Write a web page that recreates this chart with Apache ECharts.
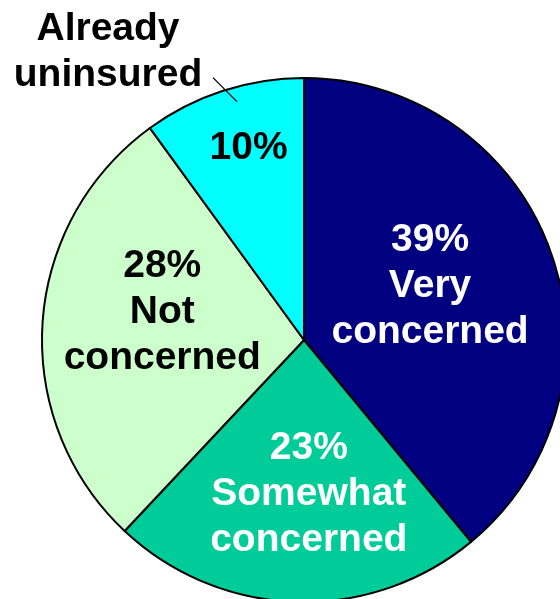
<!DOCTYPE html>
<html>
<head>
<meta charset="utf-8">
<script src="https://cdn.jsdelivr.net/npm/echarts@6/dist/echarts.min.js"></script>
<style>html,body{margin:0;padding:0;background:#fff;}#c{width:560px;height:599px;}</style>
</head>
<body>
<div id="c"></div>
<script>
const categories = ['Very concerned', 'Somewhat concerned', 'Not concerned', 'Already uninsured'];
const labelTexts = ['39%\nVery\nconcerned', '23%\nSomewhat\nconcerned', '28%\nNot\nconcerned', '10%'];
const outsideTexts = ['', '', '', 'Already\nuninsured'];
const values = [39, 23, 28, 10];

const colors = ['#000080', '#00CC99', '#CCFFCC', '#00FFFF'];
const textColors = ['#ffffff', '#ffffff', '#000000', '#000000'];
const labelOffsets = [[0, -8], [9, 20], [-8, -19], [-14, -64]];
const CX = 304, CY = 340, R = 262;
const FONT = {
  fontFamily: 'Liberation Sans, Arial, sans-serif',
  fontWeight: 'bold',
  fontSize: 39,
  lineHeight: 46,
  align: 'center',
  overflow: 'none'
};

const chart = echarts.init(document.getElementById('c'), null, {renderer: 'canvas'});
const data = categories.map((name, i) => ({
  name: name,
  value: values[i],
  itemStyle: {color: colors[i]},
  label: {
    show: true,
    position: 'inside',
    formatter: labelTexts[i],
    color: textColors[i],
    offset: labelOffsets[i]
  }
}));
const outsideData = categories.map((name, i) => ({
  name: name,
  value: values[i],
  label: {show: !!outsideTexts[i], position: 'outside', formatter: outsideTexts[i] || ' ', color: '#000'},
  labelLine: {show: !!outsideTexts[i], lineStyle: {color: '#000', width: 1.3}}
}));

// mid-angle of the last slice (degrees, math convention), derived from values
const total = values.reduce((a, b) => a + b, 0);
const cumBefore = values.slice(0, 3).reduce((a, b) => a + b, 0);
const midFrac = (cumBefore + values[3] / 2) / total;
const midAngle = (90 - midFrac * 360) * Math.PI / 180;

chart.setOption({
  animation: false,
  backgroundColor: '#ffffff',
  series: [{
    type: 'pie',
    center: [CX, CY],
    radius: R,
    startAngle: 90,
    clockwise: true,
    data: data,
    itemStyle: {borderColor: '#000', borderWidth: 2},
    label: FONT,
    labelLine: {show: false},
    emphasis: {disabled: true}
  }, {
    type: 'pie',
    center: [CX, CY],
    radius: R,
    startAngle: 90,
    clockwise: true,
    silent: true,
    z: 3,
    data: outsideData,
    itemStyle: {color: 'rgba(0,0,0,0)', borderWidth: 0},
    label: Object.assign({}, FONT, {edgeDistance: 0, bleedMargin: 0}),
    labelLayout: function (p) {
      if (p.dataIndex !== 3) return {};
      const a = midAngle - 2.3 * Math.PI / 180;
      const sx = CX + Math.cos(a) * R * 0.945;
      const sy = CY - Math.sin(a) * R * 0.945;
      const d = 34;
      const ex = sx - d * Math.SQRT1_2;
      const ey = sy - d * Math.SQRT1_2;
      return {
        x: 108, y: 52, align: 'center', verticalAlign: 'middle',
        labelLinePoints: [[sx, sy], [ex, ey], [ex, ey]]
      };
    },
    emphasis: {disabled: true}
  }]
});
</script>
</body>
</html>
